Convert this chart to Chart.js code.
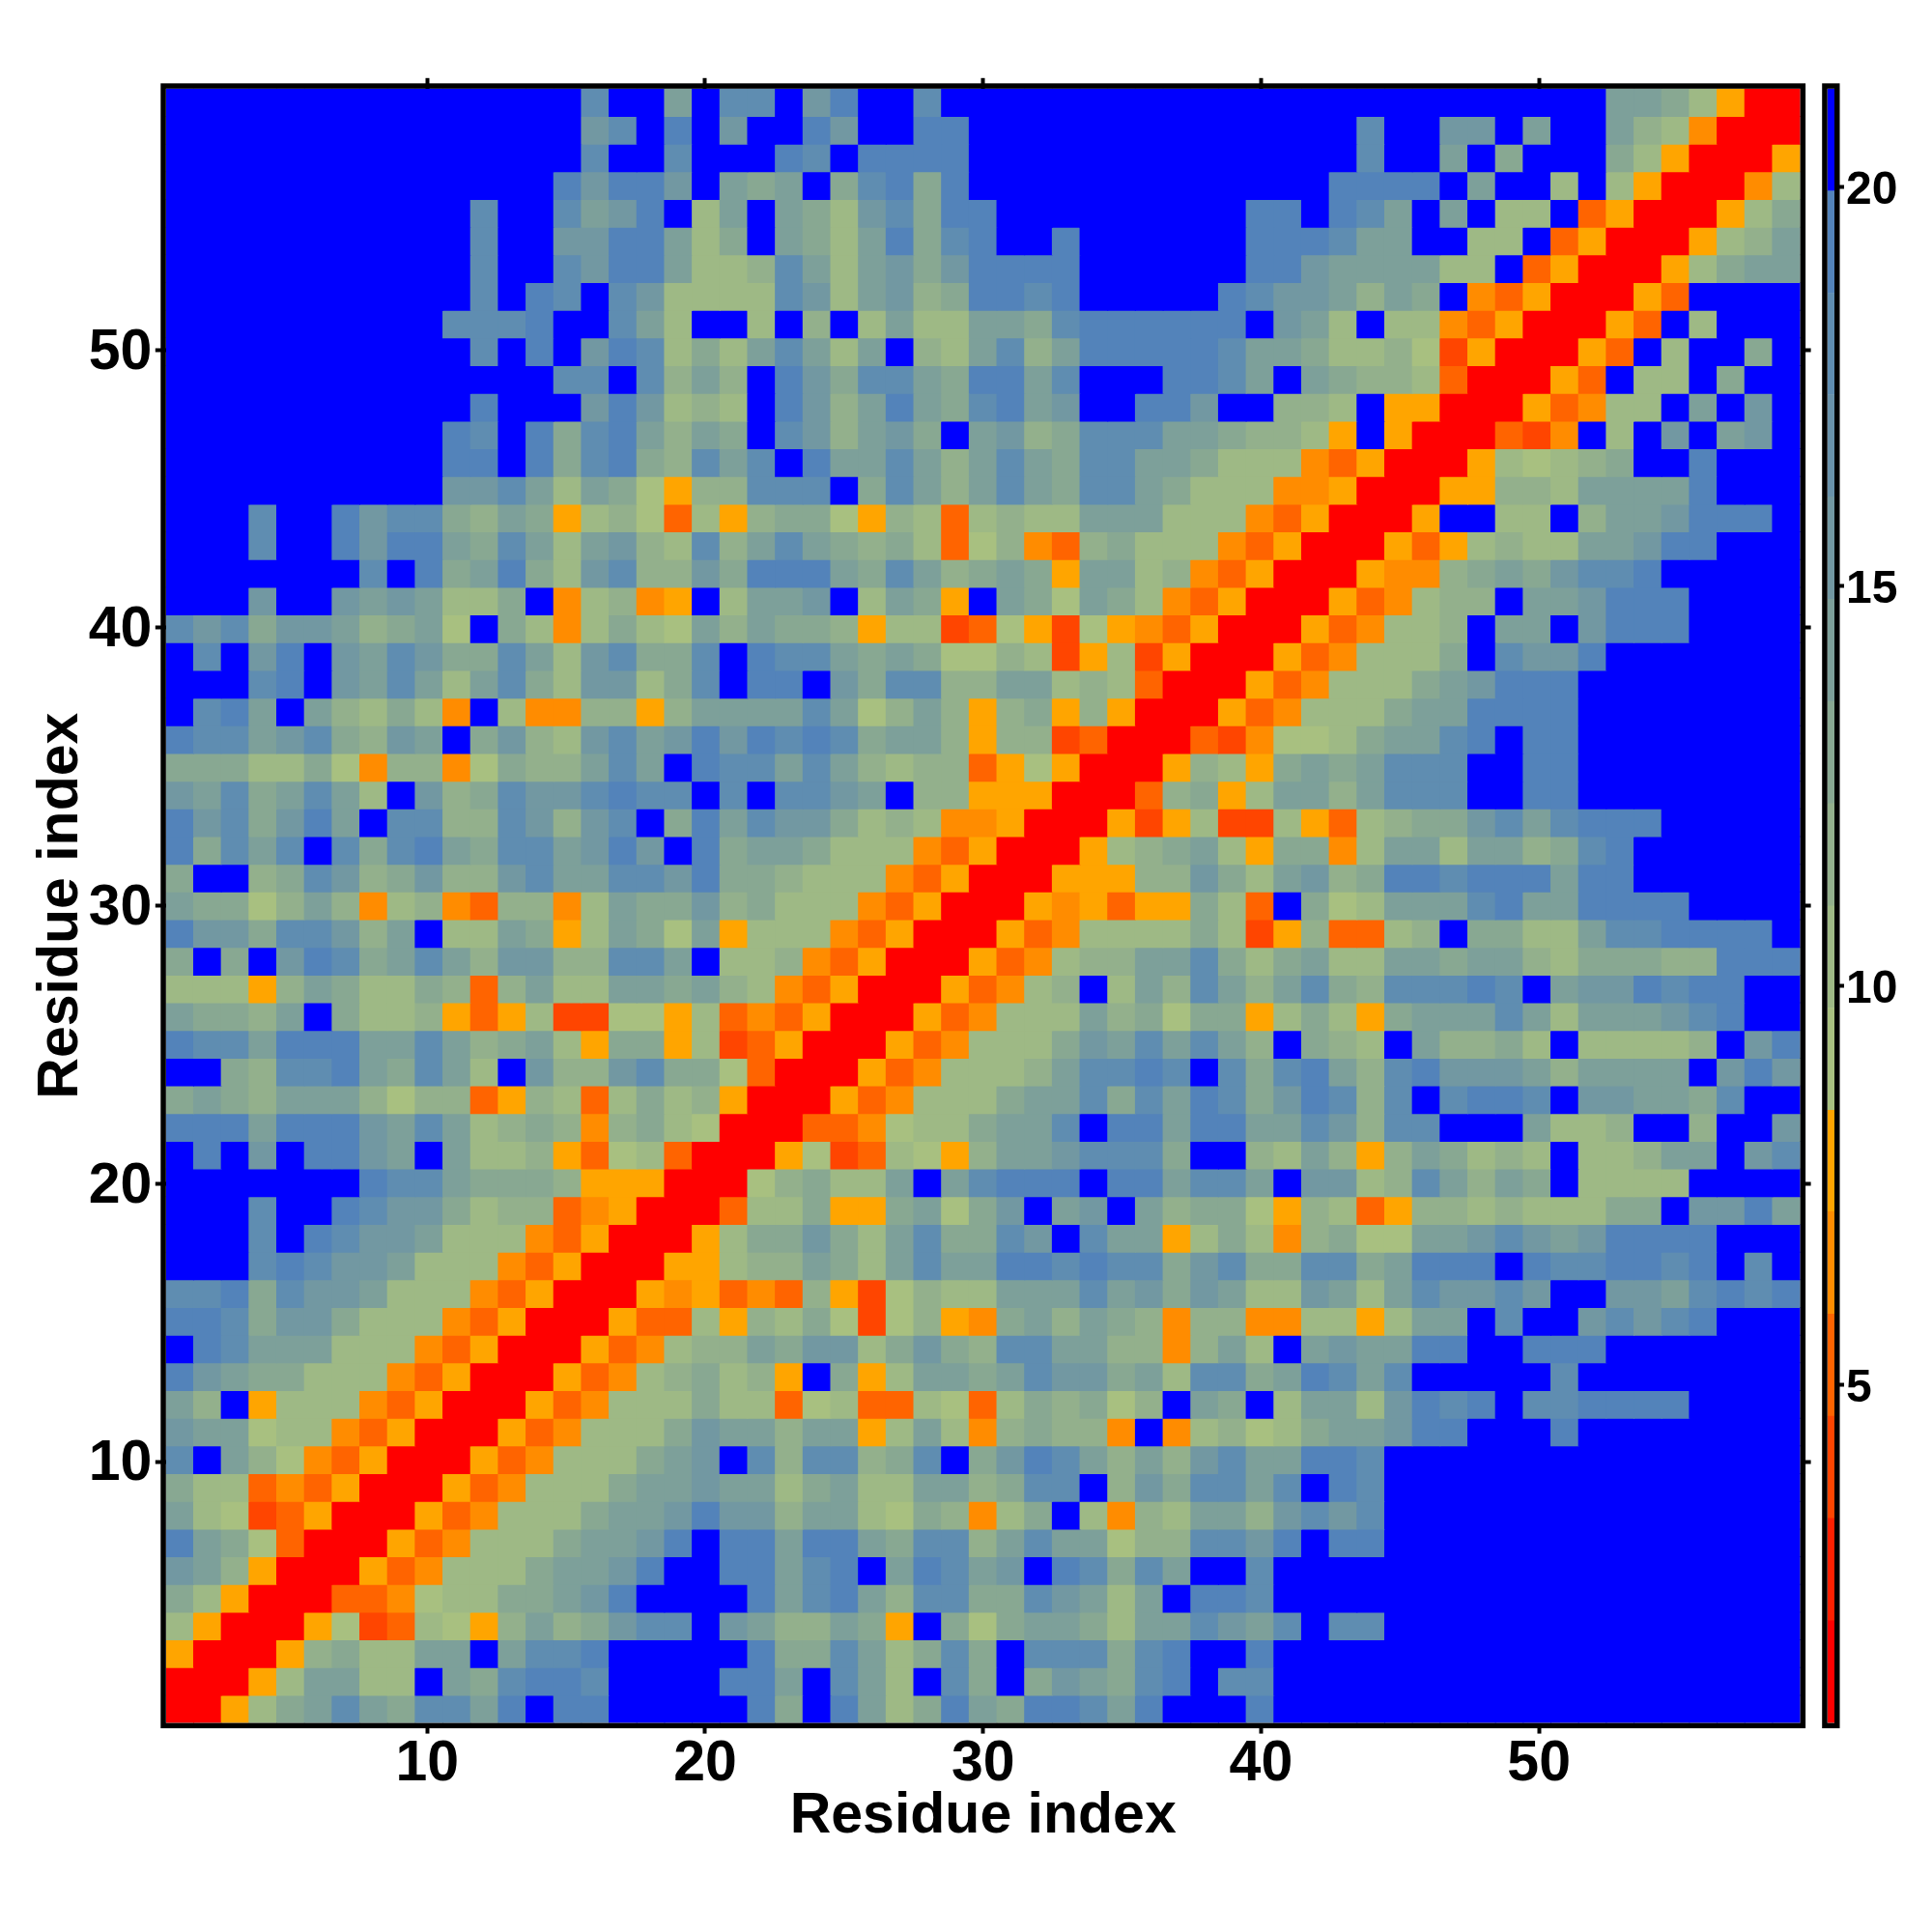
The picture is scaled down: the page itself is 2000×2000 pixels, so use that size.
<!DOCTYPE html>
<html>
<head>
<meta charset="utf-8">
<title>Residue index</title>
<script src="https://cdn.jsdelivr.net/npm/chart.js@4/dist/chart.umd.js"></script>
<style>
	body { margin: 0; background: #fff; }
	canvas { position: absolute; top: 0; }
</style>
</head>
<body>
<canvas id="matrix" width="2000" height="2000" style="left:0"></canvas>
<canvas id="colorbar" width="120" height="2000" style="left:1880px"></canvas>
<script>
var axisTitle = "Residue index";
var residueTicks = [10, 20, 30, 40, 50];
var barTicks = [5, 10, 15, 20];

// one letter per distance band, lowest band first
var bandCodes = "RQTUVWabcdefxghB";
var bandColors = ["#ff0000", "#ff2000", "#ff4500", "#ff6400", "#ff8c00", "#ffa500",
	"#a8c080", "#9eb985", "#93b08c", "#88a892", "#7da09a", "#7298a2",
	"#6992aa", "#5f8db1", "#5383ba", "#0000ff"];
var bandEdges = [0.77, 2.05, 3.33, 4.61, 5.89, 7.17, 8.44, 9.72, 11.0, 12.28, 13.56, 14.84, 16.12, 17.4, 18.67, 19.95, 21.23];

// rows from residue 59 down to residue 1, columns 1-20 21-40 41-59
var cellRows = [
	"BBBBBBBBBBBBBBBgBBeB ggBfhBBgBBBBBBBBBBBB BBBBBBBBBBBBeedbWRR",
	"BBBBBBBBBBBBBBBfgBhB fBBhfBBhhBBBBBBBBBBB BBBgBBffBeBBecbVRRR",
	"BBBBBBBBBBBBBBBgBBgB BBhgBhhhhBBBBBBBBBBB BBBgBBeBdBBBdbWRRRW",
	"BBBBBBBBBBBBBBhfhhfB edeBdghdhBBBBBBBBBBB BBhhhhBeBBbBbWRRRVb",
	"BBBBBBBBBBBgBBgefhBb eBedbfgdhhBBBBBBBBBh hBhgeBeBbbBUWRRRWbd",
	"BBBBBBBBBBBgBBffhheb dBedbehdghBBhBBBBBBh hhgeeBBbbBUWRRRWbce",
	"BBBBBBBBBBBgBBgfhheb bcgebefdfhhhhBBBBBBh hfeeeebbBUWRRRWbdee",
	"BBBBBBBBBBBgBhgBgfbb bbgfbefcdhhghBBBBBhg ffecedBVUWRRRWUBBBB",
	"BBBBBBBBBBggghBBgebB BbBcBbebbeedghhhhhhB febBbbVUWRRRWUBbBBB",
	"BBBBBBBBBBBgBhBfhgbd begebeBcbegcehhhhhge edbbcaTWRRRWUBbBBdB",
	"BBBBBBBBBBBBBBggBgce cBhfdggedhhegBBBhhge BedccbURRRWUBbbBdBB",
	"BBBBBBBBBBBhBBBfhfbc bBhfcehedghefBBhhfBB ccbBWWRRRWUVbbBeBfB",
	"BBBBBBBBBBhgBhdghece dBgfcefdBefcdgggeedc cbWBWRRRUTVBbBfBefB",
	"BBBBBBBBBBhhBhdghdcg egBheegecegedggeedbb bVUWRRRWbabcdBBhBBB",
	"BBBBBBBBBBffgebedaWc cgggBdgecegedggedbbb VVWRRRWWccbeeeehBBB",
	"BBBgBBhfggdcedWbcaUb WcddaWcbUbcbbeeebbbV UWRRRWBBbbBceefhhhB",
	"BBBgBBhfhhedgebefcbg cegedcdbUacVUcdbbbVU WRRRWUWbcbbeefhhBBB",
	"BBBBBBBgBhdehdbfgccf dhhhedgecdedWeebcVUW RRRWVVcdedfgghBBBBB",
	"BBBfBBfefebbdBVbcVWB beefBbedWBedaedbVUWR RRWUVbccBeefhhhBBBB",
	"gfgdffecdeaBdbVbdbae ceddcWbbTUaWTaWVUWRR RWUVbbcBeeBfhhhBBBB",
	"BgBfhBfegfddgebfgddg BhggededaacbTWbTWRRR WUVbbbdBgffhBBBBBBB",
	"BBBghBfegebegdbffbdg BhhBfdggcceebcbURRRW UVbbbdefhhhBBBBBBBB",
	"BgheBecbdbVBbVVccWce eeegeacecWcdWcWRRRWU VbbbdeehhhhBBBBBBBB",
	"hggefgdcfeBdfcbfgefh fhghgdeecWccTURRRUTV aabdeeghBhhBBBBBBBB",
	"dddbbdaVccVadccegeBh ggegecbccUWaWRRRWcbW dedegggBBhhBBBBBBBB",
	"fegdegebBfcdgffghggB gBggfeBccWWWRRRUcdWb eecegggBBhhBBBBBBBB",
	"hfgdfheBggccgfcfgBdh egffdbcbVVWRRRWTWbTT bWUbcddfgeghhhBBBBB",
	"hdgegBgdghedggefhfBh deedbbbVUWRRRWbcdebW ddVbeebeecdghBBBBBB",
	"dBBcdgfcdfccfgeeggfh ddcbbbVUWRRRWWWccfdb efcdhhghhhehhBBBBBB",
	"eddacecVbcVUccVbeddf cdbbbVUWRRRWVWUWWdbU BdabeeegheehhhhBBBB",
	"hffdggfceBbbedWbedae WbbbVUWRRRWUVbbbbdbT WcUUbcBddbbegghhhhB",
	"dBdBfhgdegecffccggeB bbcVUWRRRWUVbcceegdb debbeedeecbdddcchhh",
	"bbbWcedbbdcUcebbeede cbVUWRRRWUVbcBbecgec egdcggghgBeffhghhBB",
	"eddceBdbbcWUWbTTaaWb UVUWRRRWUVbbbecdaddW bdbWdeeegebeeefghBB",
	"hggehhheegecdebWddWb TUWRRRWUVbbbdfegegec BdcbBeccdbBbbbbcBfh",
	"BBdcgghedgebBfccfgdd aURRRWUVbbbcegghgBgd ghecghfffeceeeeBfhf",
	"dedceeecaccUWcbUbdbc WRRRWUVbbbdeegdgehgd fhgcgBghhgBffeedgBB",
	"hhhehhhfegebcdcVcdba RRRUUVabbdeegBhhehhe egfcggBBBebbcBBcBBf",
	"BhBfBhhfeBebbcWUabUR RRWaTUbaWceefgggdBBc becWcedbcbBbbceeBfg",
	"BBBBBBBhggedddcWWWRR RacdbbeBeghhhBhhegge BffbcgecedBbbbbBBBB",
	"BBBgBBhgffdbccUVWRRR UbbdWWdeadfBefBecdda WcbUWccbcbbbddBffhe",
	"BBBgBhgffebbbVUWRRRW bddfdbegddgfBgeeWbdb VcdaaeefgfefhhhhBBB",
	"BBBghgffebbbVUWRRRWW bccedbegeehhghggdfgd dggdehhhBhgghhghBgB",
	"gghdgffebbbVUWRRRWVW UVUcWTacbbeeegefdfeb bfebegffgfBBffeghgh",
	"hhgdffdbbbVUWRRRWUUb WcbdaTacWVdecedcVccV VbbWbeeBgBBfgfghBBB",
	"BhgeeebbbVUWRRRWUVbc cedffbdfdcggeeccVceb BefeehhBBhhhBBBBBBB",
	"hfeddbbbVUWRRRWUVbcd bcWBdWbeedegffdebggd ehgegBBBBBgBBBBBBBB",
	"ecBWbbbVUWRRRWUVbbbd bbUabUUbaUbdcdacBedB beebfhghBgghhhhBBBB",
	"feeabbVUWRRRWUVbbbdf eeceeWbebVcdccVBVbca bdeefhhBBBhBBBBBBBB",
	"gBecaVUWRRRWUVbbbdef BgcggcdgBdfhgececfge ehhgBBBBBBBBBBBBBBB",
	"dbbUVUWRRRWUVbbbdeef eebdebbeecdggBcfdgge gBhgBBBBBBBBBBBBBBB",
	"ebaTUWRRRWUVbbbdeefh ffceebadcVbdBbVcbeec fgfgBBBBBBBBBBBBBBB",
	"hedaURRRWUVbbbdeefhB hhehhedggcegeeaccggf hBhhBBBBBBBBBBBBBBB",
	"fecWRRRWUVbbbdeefhBB hheghBehgefBhgdgeBBg BBBBBBBBBBBBBBBBBBB",
	"dbWRRRUUVabbddefhBBB BheghecggddgfebeBhhg BBBBBBBBBBBBBBBBBBB",
	"bWRRRWaTUbaWcecdfggB feccedWBdadeedbeegfe gBggBBBBBBBBBBBBBBB",
	"WRRRWcdbbeeBegghBBBB BhddgebdgdBgggdghBBh BBBBBBBBBBBBBBBBBBB",
	"RRRWbeebbBedghhgBBBB hheBgebBgdBdfedghBgg BBBBBBBBBBBBBBBBBBB",
	"RRWbdegedggehBhhBBBB BhdBhebdhedhhgehBBBh BBBBBBBBBBBBBBBBBBB"
];

var matrixDatasets = [];
for (var r = 0; r < cellRows.length; r++) {
	var rowCodes = cellRows[r].replace(/ /g, "");
	var residue = cellRows.length - r;
	var points = [];
	var colors = [];
	for (var c = 0; c < rowCodes.length; c++) {
		points.push({ x: c + 1, y: [residue - 0.5, residue + 0.5] });
		colors.push(bandColors[bandCodes.indexOf(rowCodes[c])]);
	}
	matrixDatasets.push({
		data: points,
		backgroundColor: colors,
		inflateAmount: 0.5,
		xAxisID: "xCells",
		yAxisID: "yCells"
	});
}

var barDatasets = [];
for (var i = 0; i < bandColors.length; i++) {
	barDatasets.push({
		data: [[bandEdges[i], bandEdges[i + 1]]],
		backgroundColor: bandColors[i],
		inflateAmount: 0.3
	});
}

// thick black box round the plot area
var framePlugin = {
	id: "frame",
	afterDraw: function(chart) {
		var a = chart.chartArea;
		var ctx = chart.ctx;
		ctx.save();
		ctx.strokeStyle = "#000";
		ctx.lineWidth = 5.5;
		ctx.strokeRect(a.left - 2.75, a.top - 2.75, a.right - a.left + 5.5, a.bottom - a.top + 5.5);
		ctx.restore();
	}
};

function fixedTicks(values) {
	return function(scale) {
		scale.ticks = values.map(function(v) { return { value: v }; });
	};
}

function fixedSize(prop, size) {
	return function(scale) { scale[prop] = size; };
}

// the tick axes run a little narrower than the cells, as in the original plot
function residueAxis(position, prop, size, showLabels, titlePadding) {
	var horizontal = position === "top" || position === "bottom";
	var axis = {
		type: "linear",
		position: position,
		min: 0.6,
		max: 59.4,
		offset: false,
		afterBuildTicks: fixedTicks(residueTicks),
		afterFit: fixedSize(prop, size),
		border: { display: false },
		grid: { offset: false, drawOnChartArea: false, drawTicks: true, tickLength: 11, tickWidth: 4, tickColor: "#000" },
		ticks: {
			display: showLabels,
			autoSkip: false,
			maxRotation: 0,
			padding: horizontal ? -3 : 3.5,
			labelOffset: horizontal ? 0 : 3,
			color: "#000",
			font: { family: "Liberation Sans", weight: "bold", size: 59 }
		}
	};
	if (titlePadding) {
		axis.title = {
			display: true,
			text: axisTitle,
			color: "#000",
			padding: titlePadding,
			font: { family: "Liberation Sans", weight: "bold", size: 59 }
		};
	}
	return axis;
}

function cellAxis(position) {
	return { type: "linear", position: position, display: false, min: 0.5, max: 59.5, offset: false, grid: { offset: false } };
}

new Chart(document.getElementById("matrix"), {
	type: "bar",
	data: { datasets: matrixDatasets },
	options: {
		responsive: false,
		animation: false,
		events: [],
		devicePixelRatio: 1,
		grouped: false,
		barPercentage: 1,
		categoryPercentage: 1,
		plugins: { legend: { display: false }, tooltip: { enabled: false } },
		scales: {
			xCells: cellAxis("bottom"),
			yCells: cellAxis("left"),
			x: residueAxis("bottom", "height", 216.4, true, { top: 0, bottom: 83.6 }),
			y: residueAxis("left", "width", 171.8, true, { top: 28.6, bottom: 0 }),
			xTop: residueAxis("top", "height", 91.8, false),
			yRight: residueAxis("right", "width", 136.4, false)
		}
	},
	plugins: [framePlugin]
});

new Chart(document.getElementById("colorbar"), {
	type: "bar",
	data: { labels: [""], datasets: barDatasets },
	options: {
		responsive: false,
		animation: false,
		events: [],
		devicePixelRatio: 1,
		grouped: false,
		barPercentage: 1,
		categoryPercentage: 1,
		layout: { padding: { left: 11.7, right: 0, top: 91.8, bottom: 216.4 } },
		plugins: { legend: { display: false }, tooltip: { enabled: false } },
		scales: {
			x: { display: false },
			y: {
				position: "right",
				min: bandEdges[0],
				max: bandEdges[bandEdges.length - 1],
				afterBuildTicks: fixedTicks(barTicks),
				afterFit: fixedSize("width", 101),
				border: { display: false },
				grid: { drawOnChartArea: false, tickLength: 10, tickWidth: 4, tickColor: "#000" },
				ticks: {
					autoSkip: false,
					padding: 2,
					labelOffset: 4,
					color: "#000",
					font: { family: "Liberation Sans", weight: "bold", size: 48 }
				}
			}
		}
	},
	plugins: [framePlugin]
});
</script>
</body>
</html>
